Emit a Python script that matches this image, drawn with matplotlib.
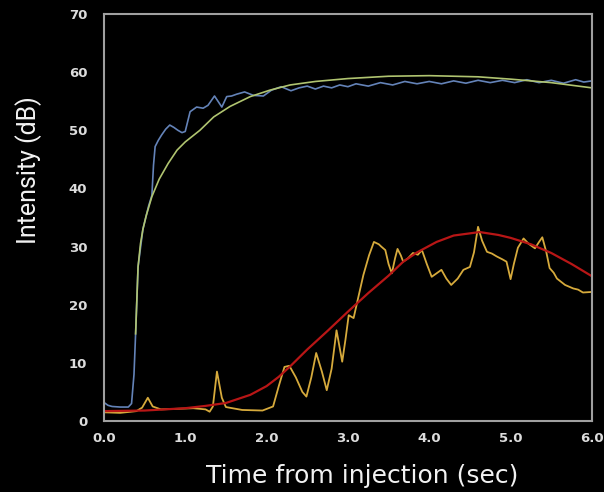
import matplotlib
matplotlib.use("Agg")
import matplotlib.pyplot as plt
import numpy as np

# measured intensity (blue) and its fit (green)
t_blue = [0.0, 0.05, 0.1, 0.2, 0.3, 0.34, 0.37, 0.39, 0.42, 0.48, 0.55, 0.59,
          0.61, 0.63, 0.67, 0.71, 0.76, 0.81, 0.86, 0.91, 0.96, 1.0, 1.06,
          1.14, 1.22, 1.28, 1.36, 1.45, 1.51, 1.57, 1.63, 1.73, 1.84, 1.96,
          2.06, 2.18, 2.3, 2.4, 2.5, 2.6, 2.7, 2.8, 2.9, 3.0, 3.1, 3.25, 3.4,
          3.55, 3.7, 3.85, 4.0, 4.15, 4.3, 4.45, 4.6, 4.75, 4.9, 5.05, 5.2,
          5.35, 5.5, 5.65, 5.8, 5.9, 6.0]
v_blue = [3.2, 2.7, 2.5, 2.4, 2.4, 3.0, 8.0, 15.0, 26.5, 33.0, 37.0, 38.8,
          44.0, 47.2, 48.3, 49.2, 50.2, 50.9, 50.5, 50.0, 49.6, 49.8, 53.2,
          54.0, 53.8, 54.3, 55.9, 54.0, 55.8, 55.9, 56.2, 56.6, 56.0, 55.9,
          56.9, 57.5, 56.8, 57.3, 57.6, 57.1, 57.6, 57.3, 57.8, 57.5, 58.0,
          57.6, 58.2, 57.8, 58.4, 58.0, 58.4, 58.0, 58.5, 58.1, 58.6, 58.2,
          58.6, 58.2, 58.7, 58.2, 58.6, 58.1, 58.7, 58.3, 58.5]

t_green = [0.39, 0.42, 0.45, 0.48, 0.52, 0.59, 0.68, 0.79, 0.9, 1.0, 1.18,
           1.35, 1.55, 1.8, 2.04, 2.29, 2.6, 3.0, 3.5, 4.0, 4.6, 5.0, 5.5, 6.0]
v_green = [15.0, 26.5, 30.5, 33.0, 35.3, 38.6, 41.6, 44.3, 46.6, 48.0, 50.0,
           52.3, 54.1, 55.8, 56.9, 57.8, 58.4, 58.9, 59.3, 59.4, 59.2, 58.8,
           58.2, 57.3]

# measured intensity (yellow) and its fit (red)
t_yellow = [0.0, 0.2, 0.4, 0.47, 0.54, 0.6, 0.7, 0.9, 1.1, 1.25, 1.3, 1.34,
            1.39, 1.45, 1.5, 1.7, 1.95, 2.08, 2.15, 2.22, 2.28, 2.36, 2.44,
            2.49, 2.55, 2.61, 2.68, 2.74, 2.8, 2.86, 2.93, 2.97, 3.01, 3.07,
            3.12, 3.19, 3.26, 3.32, 3.38, 3.41, 3.46, 3.5, 3.54, 3.58, 3.61,
            3.65, 3.68, 3.74, 3.8, 3.86, 3.91, 3.97, 4.03, 4.09, 4.15, 4.21,
            4.27, 4.35, 4.42, 4.5, 4.55, 4.6, 4.65, 4.71, 4.77, 4.83, 4.9,
            4.95, 5.0, 5.04, 5.09, 5.16, 5.22, 5.3, 5.35, 5.39, 5.44, 5.48,
            5.53, 5.57, 5.67, 5.77, 5.83, 5.89, 6.0]
v_yellow = [1.5, 1.4, 1.7, 2.3, 4.0, 2.5, 2.0, 2.1, 2.2, 2.0, 1.6, 2.5,
            8.5, 4.0, 2.4, 1.9, 1.8, 2.5, 6.0, 9.3, 9.5, 7.5, 5.0, 4.2, 7.5,
            11.7, 8.5, 5.3, 9.0, 15.6, 10.2, 14.0, 18.2, 17.7, 20.8, 25.1,
            28.5, 30.8, 30.4, 30.0, 29.4, 27.0, 25.4, 28.0, 29.6, 28.5, 27.4,
            28.0, 28.9, 28.6, 29.4, 27.0, 24.8, 25.4, 26.0, 24.5, 23.4, 24.5,
            26.0, 26.5, 29.0, 33.4, 31.0, 29.1, 28.8, 28.3, 27.8, 27.4, 24.4,
            27.0, 29.8, 31.4, 30.5, 29.7, 30.8, 31.6, 29.0, 26.3, 25.5, 24.5,
            23.4, 22.8, 22.6, 22.1, 22.2]

t_red = [0.0, 0.5, 1.0, 1.25, 1.5, 1.8, 2.0, 2.15, 2.29, 2.5, 2.75, 3.0,
         3.25, 3.5, 3.68, 3.85, 4.09, 4.3, 4.62, 4.85, 5.0, 5.25, 5.5, 5.75,
         6.0]
v_red = [1.7, 1.8, 2.2, 2.6, 3.1, 4.5, 6.0, 7.6, 9.4, 12.3, 15.5, 18.8,
         22.0, 25.0, 27.4, 29.0, 30.8, 31.9, 32.5, 32.0, 31.5, 30.4, 28.9,
         27.0, 24.9]

x_ticks = [0, 1, 2, 3, 4, 5, 6]
x_labels = ["0.0", "1.0", "2.0", "3.0", "4.0", "5.0", "6.0"]
y_ticks = [0, 10, 20, 30, 40, 50, 60, 70]

fig = plt.figure(figsize=(6.04, 4.92), dpi=100, facecolor="black")
ax = fig.add_axes([0.172, 0.1443, 0.808, 0.8272])
ax.set_facecolor("black")

ax.plot(t_blue, v_blue, color="#6483b8", lw=1.2)
ax.plot(t_green, v_green, color="#b0c470", lw=1.2)
ax.plot(t_yellow, v_yellow, color="#d6aa3c", lw=1.3)
ax.plot(t_red, v_red, color="#b81616", lw=1.6)

ax.set_xlim(0, 6)
ax.set_ylim(0, 70)
ax.set_xticks(x_ticks)
ax.set_xticklabels(x_labels)
ax.set_yticks(y_ticks)
ax.tick_params(length=0, colors="#dcdcdc", labelsize=9.5)
ax.tick_params(axis="y", pad=12)
ax.tick_params(axis="x", pad=8)
for lab in ax.get_xticklabels() + ax.get_yticklabels():
    lab.set_fontweight("bold")
for spine in ax.spines.values():
    spine.set_edgecolor("#a0a0a0")
    spine.set_linewidth(1.5)

fig.text(0.599, 0.019, "Time from injection (sec)", color="#f2f2f2",
         fontsize=18, family="DejaVu Sans", ha="center", va="baseline")
fig.text(0.048, 0.654, "Intensity (dB)", color="#f2f2f2", fontsize=18,
         family="Roboto", rotation=90, ha="center", va="center")

fig.savefig("out.png", dpi=100, facecolor="black")
